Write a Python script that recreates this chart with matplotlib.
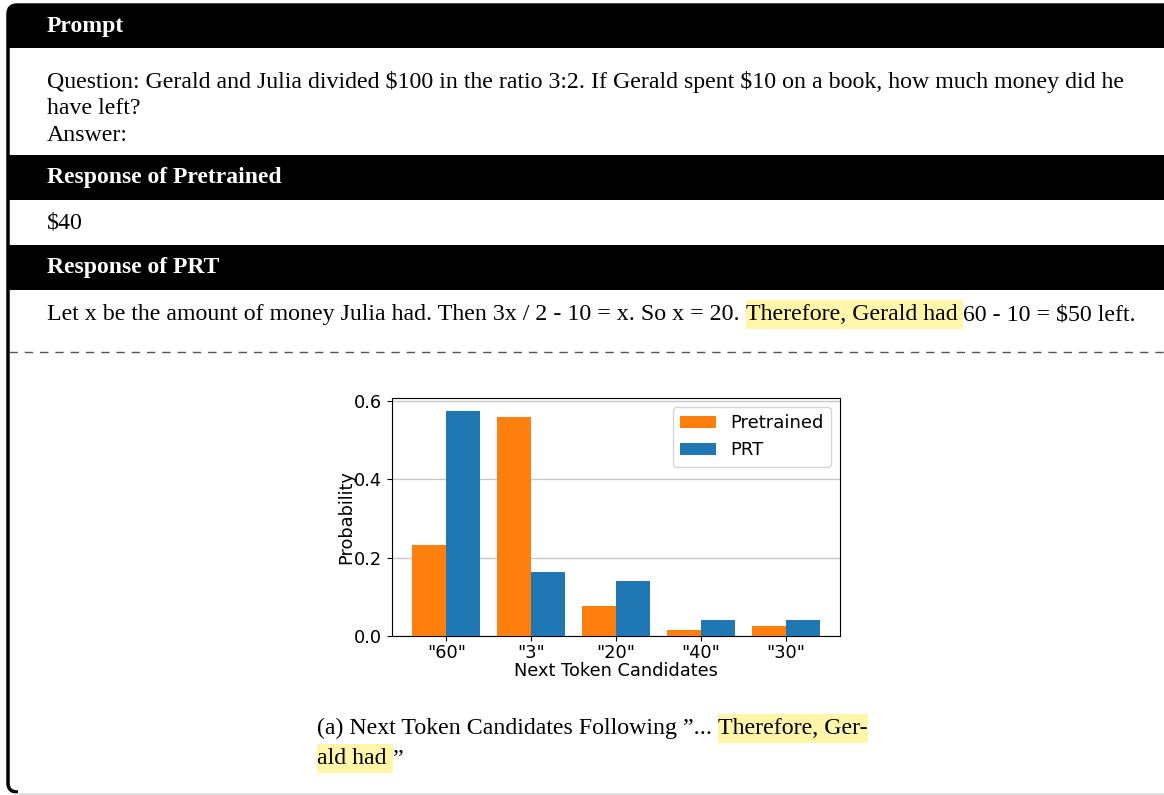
import numpy as np
import matplotlib
matplotlib.use("Agg")
import matplotlib.pyplot as plt
from matplotlib.patches import Rectangle, FancyBboxPatch

# chart data
candidates = ['"60"', '"3"', '"20"', '"40"', '"30"']
pretrained = [0.232, 0.559, 0.077, 0.015, 0.026]
prt = [0.574, 0.163, 0.140, 0.041, 0.041]

# text content
prompt_lines = [
    "Question: Gerald and Julia divided $100 in the ratio 3:2. If Gerald spent $10 on a book, how much money did he",
    "have left?",
    "Answer:",
]
pretrained_resp = "$40"
prt_resp = ["Let x be the amount of money Julia had. Then 3x / 2 - 10 = x. So x = 20. ",
            "Therefore, Gerald had ", "60 - 10 = $50 left."]
caption_1 = ["(a) Next Token Candidates Following \u201d... ", "Therefore, Ger-"]
caption_2 = ["ald had ", "\u201d"]

W, H = 1164, 795
HL = "#fff6aa"
SERIF = ["Liberation Serif", "DejaVu Serif"]
BODY = 17.2
HEAD = 17
TICK = 12.8

fig = plt.figure(figsize=(W / 100, H / 100), dpi=100)
bg = fig.add_axes([0, 0, 1, 1])
bg.set_xlim(0, W)
bg.set_ylim(H, 0)
bg.axis("off")

# outer card
bg.add_patch(FancyBboxPatch((8, 5), 1250, 787, boxstyle="round,pad=0,rounding_size=9",
                            fc="white", ec="black", lw=2.5, zorder=1))
bg.plot([20, W], [792, 792], color="white", lw=3, zorder=2)
bg.plot([14, W], [794, 794], color="#dddddd", lw=1.2, zorder=2)

# header bars
bg.add_patch(FancyBboxPatch((8, 5), 1250, 43, boxstyle="round,pad=0,rounding_size=9",
                            fc="black", ec="black", lw=0, zorder=2))
bg.add_patch(Rectangle((8, 20), 1250, 28, fc="black", lw=0, zorder=2))
bg.add_patch(Rectangle((8, 155), 1250, 45, fc="black", lw=0, zorder=2))
bg.add_patch(Rectangle((8, 245), 1250, 45, fc="black", lw=0, zorder=2))

for label, yb in [("Prompt", 32), ("Response of Pretrained", 183), ("Response of PRT", 273)]:
    bg.text(47, yb, label, color="white", fontsize=HEAD, fontweight="bold",
            family=SERIF, va="baseline", zorder=3, parse_math=False)

for i, line in enumerate(prompt_lines):
    bg.text(47, 88 + i * 26.5, line, fontsize=BODY, family=SERIF, va="baseline",
            zorder=3, parse_math=False)
bg.text(47, 229, pretrained_resp, fontsize=BODY, family=SERIF, va="baseline",
        zorder=3, parse_math=False)

renderer = fig.canvas.get_renderer()
inv = bg.transData.inverted()


def run_text(x, y, pieces, highlight):
    # draw pieces one after another, highlighting the flagged ones
    for piece, hl in zip(pieces, highlight):
        t = bg.text(x, y, piece, fontsize=BODY, family=SERIF, va="baseline",
                    zorder=4, parse_math=False)
        bb = t.get_window_extent(renderer)
        (x0, _), (x1, _) = inv.transform([[bb.x0, bb.y0], [bb.x1, bb.y1]])
        if hl:
            bg.add_patch(Rectangle((x0, y - 20), x1 - x0, 29, fc=HL, lw=0, zorder=3))
        x = x1


run_text(47, 320, prt_resp, [False, True, False])

# dashed separator
bg.plot([9, W], [352, 352], color="#555555", lw=1, dashes=(6, 5), zorder=3)

# caption
run_text(317, 734, caption_1, [False, True])
run_text(317, 764, caption_2, [True, False])

# bar chart
ax = fig.add_axes([392 / W, 1 - 636 / H, 448 / W, 238 / H], zorder=5)
x = np.arange(len(candidates))
w = 0.4
ax.bar(x - w / 2, pretrained, w, color="#ff7f0e", label="Pretrained", zorder=3)
ax.bar(x + w / 2, prt, w, color="#1f77b4", label="PRT", zorder=3)
ax.set_xticks(x)
ax.set_xticklabels(candidates, fontsize=TICK)
ax.set_yticks([0.0, 0.2, 0.4, 0.6])
ax.tick_params(axis="y", labelsize=TICK)
ax.tick_params(axis="x", pad=2)
ax.set_ylim(0, 0.607)
ax.yaxis.grid(True, color="#c8c8c8", lw=1)
ax.set_axisbelow(True)
ax.set_xlabel("Next Token Candidates", fontsize=TICK, labelpad=0)
ax.set_ylabel("Probability", fontsize=TICK, labelpad=-1)
ax.legend(loc="upper right", fontsize=13)

fig.savefig("out.png", dpi=100)
